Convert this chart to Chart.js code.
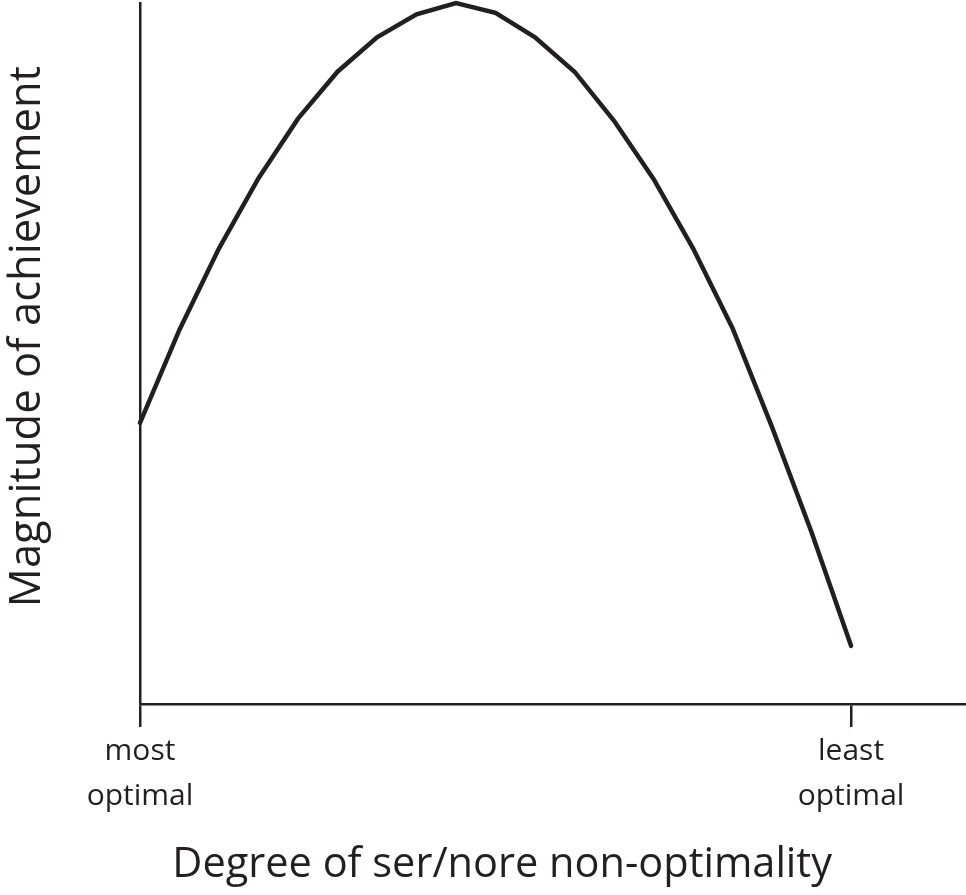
<!DOCTYPE html>
<html>
<head>
<meta charset="utf-8">
<script src="https://cdn.jsdelivr.net/npm/chart.js@4"></script>
<style>
  body { margin: 0; background: #fff; }
</style>
</head>
<body>
<canvas id="chart" width="966" height="895"></canvas>
<script>
// 数据
const xPositions = [0, 1, 2, 3, 4, 5, 6, 7, 8, 9, 10, 11, 12, 13, 14, 15, 16, 17, 18];
const achievement = [40.1, 53.4, 65.0, 75.0, 83.5, 90.2, 95.1, 98.4, 100, 98.6, 95.1, 90.2, 83.2, 74.9, 65.0, 53.6, 39.5, 24.5, 8.3];
const tickValues = [0, 18];
const tickLabels = [['most', 'optimal'], ['least', 'optimal']];

const ink = '#231f20';
const font = 'Open Sans';

new Chart(document.getElementById('chart'), {
    type: 'line',
    data: {
        datasets: [{
            data: xPositions.map((x, i) => ({ x: x, y: achievement[i] })),
            borderColor: ink,
            borderWidth: 4.5,
            borderCapStyle: 'round',
            pointRadius: 0,
            tension: 0,
            fill: false,
            clip: false
        }]
    },
    options: {
        responsive: false,
        animation: false,
        layout: { padding: { top: 3, left: 0, right: 0, bottom: 0 } },
        plugins: {
            legend: { display: false },
            tooltip: { enabled: false }
        },
        scales: {
            x: {
                type: 'linear',
                min: 0,
                max: 20.91,
                afterFit: (scale) => { scale.height = 191; },
                afterBuildTicks: (scale) => {
                    scale.ticks = tickValues.map(v => ({ value: v }));
                },
                ticks: {
                    autoSkip: false,
                    maxRotation: 0,
                    padding: 2,
                    color: ink,
                    font: { family: font, size: 30, lineHeight: 1.5 },
                    callback: (value, index) => tickLabels[index]
                },
                grid: {
                    display: true,
                    drawOnChartArea: false,
                    drawTicks: true,
                    tickLength: 23,
                    color: ink,
                    lineWidth: 2.5
                },
                border: { display: true, color: ink, width: 2.5 },
                title: {
                    display: true,
                    align: 'start',
                    text: '   Degree of ser/nore non-optimality',
                    color: ink,
                    font: { family: font, size: 41.5, lineHeight: 1.2 },
                    padding: { top: 0, bottom: 5 }
                }
            },
            y: {
                min: 0,
                max: 100,
                afterFit: (scale) => { scale.width = 140; },
                ticks: { display: false },
                grid: { display: false },
                border: { display: true, color: ink, width: 2.5 },
                title: {
                    display: true,
                    text: '   Magnitude of achievement',
                    color: ink,
                    font: { family: font, size: 43.5, lineHeight: 1.2 },
                    padding: { top: 2, bottom: 0 }
                }
            }
        }
    }
});
</script>
</body>
</html>
